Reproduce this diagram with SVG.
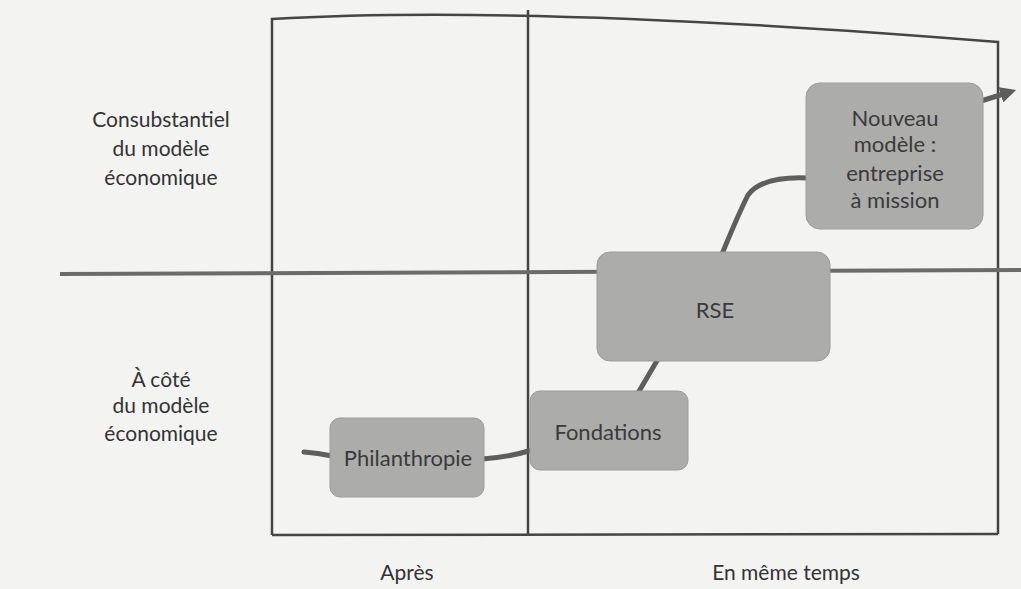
<svg xmlns="http://www.w3.org/2000/svg" width="1021" height="589" viewBox="0 0 1021 589">
  <style>
    .frame { fill: none; stroke: #454545; stroke-width: 2.5; }
    .axis { fill: none; stroke: #6b6b6b; stroke-width: 4; }
    .link { fill: none; stroke: #5e5e5e; stroke-width: 5; stroke-linecap: round; }
    .box { fill: #acacaa; stroke: #9c9c9a; stroke-width: 1; }
    .lbl { font-family: Lato, "Open Sans", sans-serif; font-size: 21px; fill: #333333; text-anchor: middle; }
    .blbl { font-family: Lato, "Open Sans", sans-serif; font-size: 22px; fill: #3a3a3a; text-anchor: middle; }
  </style>
  <defs>
    <marker id="arrow" viewBox="0 0 10 10" refX="6" refY="5" markerWidth="3.2" markerHeight="3.2" orient="auto" markerUnits="strokeWidth">
      <path d="M0,0 L10,5 L0,10 z" fill="#5e5e5e"/>
    </marker>
  </defs>

  <rect x="0" y="0" width="1021" height="589" fill="#f3f3f1"/>

  <!-- frame and quadrant lines -->
  <g id="grid">
    <path class="frame" d="M272,535 L272,19 Q530,4 998,42 L998,534"/>
    <path class="frame" d="M272,535 L998,534"/>
    <path class="frame" d="M528,10 L528,535"/>
    <path class="axis" d="M60,274 L1021,270"/>
  </g>

  <!-- axis labels -->
  <g id="row-labels">
    <text class="lbl" x="161" y="127">Consubstantiel</text>
    <text class="lbl" x="161" y="156">du modèle</text>
    <text class="lbl" x="161" y="185">économique</text>
    <text class="lbl" x="161" y="387">À côté</text>
    <text class="lbl" x="161" y="413">du modèle</text>
    <text class="lbl" x="161" y="441">économique</text>
  </g>
  <g id="col-labels">
    <text class="lbl" x="407" y="580">Après</text>
    <text class="lbl" x="786" y="580">En même temps</text>
  </g>

  <!-- connectors -->
  <g id="connectors">
    <path class="link" d="M304,452 Q318,453 332,456"/>
    <path class="link" d="M482,459 Q510,457 532,450"/>
    <path class="link" d="M638,393 Q648,376 658,359"/>
    <path class="link" d="M722,254 Q738,215 748,195 Q762,176 808,178"/>
    <path class="link" d="M981,101 L1010,92" marker-end="url(#arrow)"/>
  </g>

  <!-- nodes -->
  <g id="philanthropie">
    <rect class="box" x="330" y="418" width="154" height="79" rx="10"/>
    <text class="blbl" x="408" y="466">Philanthropie</text>
  </g>
  <g id="fondations">
    <rect class="box" x="530" y="391" width="158" height="79" rx="10"/>
    <text class="blbl" x="608" y="440">Fondations</text>
  </g>
  <g id="rse">
    <rect class="box" x="597" y="252" width="233" height="109" rx="13"/>
    <text class="blbl" x="715" y="318">RSE</text>
  </g>
  <g id="nouveau-modele">
    <rect class="box" x="806" y="83" width="177" height="146" rx="14"/>
    <text class="blbl" x="895" y="126">Nouveau</text>
    <text class="blbl" x="895" y="152">modèle :</text>
    <text class="blbl" x="895" y="181">entreprise</text>
    <text class="blbl" x="895" y="208">à mission</text>
  </g>
</svg>
